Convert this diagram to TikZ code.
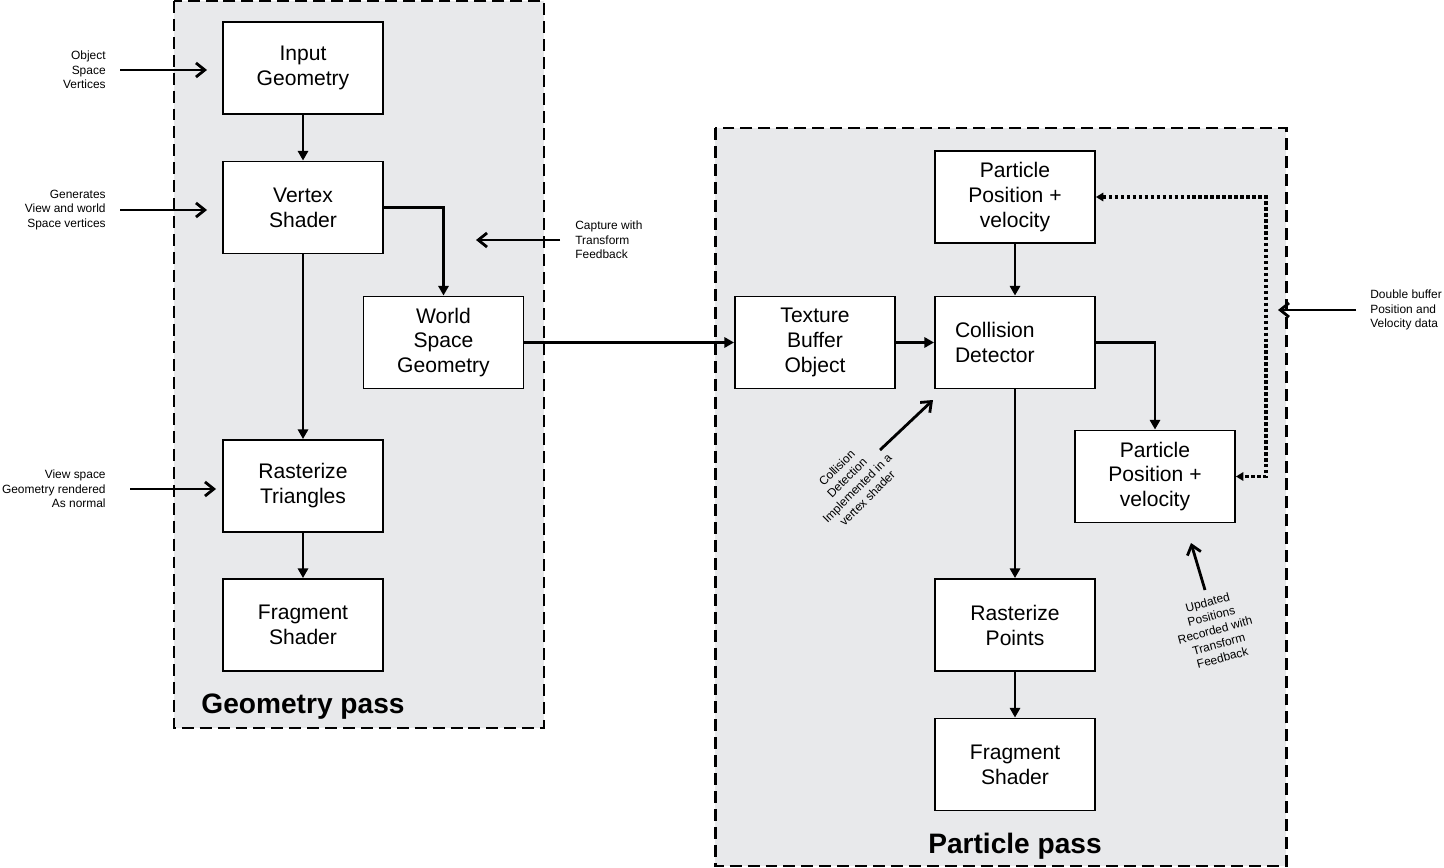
\documentclass[tikz,border=0pt]{standalone}
\usepackage{fontspec}
\setmainfont{Liberation Sans}
\usetikzlibrary{arrows.meta}
\definecolor{panel}{RGB}{232,233,235}
\begin{document}
\begin{tikzpicture}[x=0.02cm,y=-0.02cm,
  box/.style={draw, line width=1.1pt, fill=white, minimum width=3.2cm, minimum height=1.84cm, align=center, inner sep=2pt, font=\fontsize{12}{14.2}\selectfont},
  conn/.style={line width=1.5pt, -{Triangle[length=5.5pt,width=5.8pt]}},
  pointer/.style={line width=1.6pt, -{Straight Barb[length=5pt,width=8pt]}},
  dotline/.style={line width=2.2pt, dash pattern=on 2pt off 1.4pt, {Triangle[length=4.2pt,width=4.8pt]}-{Triangle[length=4.2pt,width=4.8pt]}},
  note/.style={font=\fontsize{6.8}{8.2}\selectfont, inner sep=0pt},
  frame/.style={draw, fill=panel, line width=1.7pt, dash pattern=on 6.8pt off 3.4pt},
  title/.style={font=\fontsize{16}{19}\selectfont\bfseries, inner sep=0pt}]
\useasboundingbox (0,0) rectangle (1444,868);
% frames
\draw[frame] (174,1) rectangle (544,728);
\draw[frame] (715,128) rectangle (1286,866);
\node[title] (gp) at (303,707) {Geometry pass};
\node[title] (pp) at (1015,846) {Particle pass};
% geometry pass boxes
\node[box] (ig) at (303,68) {Input\\Geometry};
\node[box] (vs) at (303,207.5) {Vertex\\Shader};
\node[box] (ws) at (443.5,342.5) {World\\Space\\Geometry};
\node[box] (rt) at (303,486) {Rasterize\\Triangles};
\node[box] (fs1) at (303,625) {Fragment\\Shader};
% particle pass boxes
\node[box] (tbo) at (815,342.5) {Texture\\Buffer\\Object};
\node[box, align=left, text width=2.4cm, inner xsep=0.4cm] (cd) at (1015,342.5) {Collision\\Detector};
\node[box] (pp1) at (1015,197) {Particle\\Position +\\velocity};
\node[box] (pp2) at (1155,476.5) {Particle\\Position +\\velocity};
\node[box] (rp) at (1015,625) {Rasterize\\Points};
\node[box] (fs2) at (1015,764.5) {Fragment\\Shader};
% connectors
\draw[conn] (ig) -- (vs);
\draw[conn] (vs.east) -| (ws.north);
\draw[conn] (vs) -- (rt);
\draw[conn] (rt) -- (fs1);
\draw[conn] (ws) -- (tbo);
\draw[conn] (tbo) -- (cd);
\draw[conn] (pp1) -- (cd);
\draw[conn] (cd.east) -| (pp2.north);
\draw[conn] (cd) -- (rp);
\draw[conn] (rp) -- (fs2);
\coordinate (d1) at (1266,197);
\coordinate (d2) at (1266,476.5);
\draw[dotline] (pp1.east) -- (d1) -- (d2) -- (pp2.east);
% notes
\node[note, anchor=east, align=right] (n1) at (106,70) {Object\\Space\\Vertices};
\coordinate (n1s) at (120,70); \coordinate (n1e) at (207,70);
\draw[pointer] (n1s) -- (n1e);
\node[note, anchor=east, align=right] (n2) at (106,210) {Generates\\View and world\\Space vertices};
\coordinate (n2s) at (120,210); \coordinate (n2e) at (207,210);
\draw[pointer] (n2s) -- (n2e);
\node[note, anchor=east, align=right] (n3) at (106,489) {View space\\Geometry rendered\\As normal};
\coordinate (n3s) at (130,489); \coordinate (n3e) at (216,489);
\draw[pointer] (n3s) -- (n3e);
\node[note, anchor=west, align=left] (n4) at (575,240) {Capture with\\Transform\\Feedback};
\coordinate (n4s) at (560,240); \coordinate (n4e) at (476,240);
\draw[pointer] (n4s) -- (n4e);
\node[note, anchor=west, align=left] (n5) at (1370,310) {Double buffer\\Position and\\Velocity data};
\coordinate (n5s) at (1356,310); \coordinate (n5e) at (1278,310);
\draw[pointer] (n5s) -- (n5e);
\node[note, rotate=45, align=center] (n6) at (852,483) {Collision\\Detection\\Implemented in a\\vertex shader};
\coordinate (n6s) at (880,450); \coordinate (n6e) at (933,400);
\draw[pointer] (n6s) -- (n6e);
\node[note, rotate=15, align=center] (n7) at (1215,630) {Updated\\Positions\\Recorded with\\Transform\\Feedback};
\coordinate (n7s) at (1205,590); \coordinate (n7e) at (1191,543);
\draw[pointer] (n7s) -- (n7e);
\end{tikzpicture}
\end{document}
